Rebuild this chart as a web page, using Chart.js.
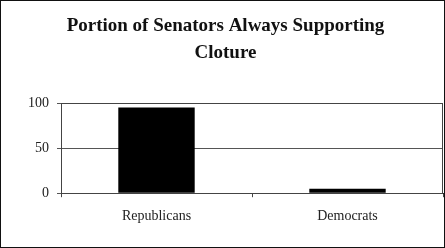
<!DOCTYPE html>
<html>
<head>
<meta charset="utf-8">
<script src="https://cdn.jsdelivr.net/npm/chart.js@4.4.0/dist/chart.umd.min.js"></script>
<style>
  body { margin: 0; background: #fff; }
</style>
</head>
<body>
<canvas id="senateChart" width="445" height="248"></canvas>
<script>
const parties = ['Republicans', 'Democrats'];
const alwaysCloture = [95, 5];
const yTicks = [0, 50, 100];

// frame round the whole picture and round the plot area
const frames = {
    id: 'frames',
    afterDraw(chart) {
        const c = chart.ctx;
        const a = chart.chartArea;
        c.save();
        c.strokeStyle = '#111';
        c.lineWidth = 1;
        c.strokeRect(0.5, 0.5, chart.width - 1, chart.height - 1);
        c.strokeStyle = '#444';
        c.strokeRect(Math.round(a.left) + 0.5, Math.round(a.top) + 0.5,
            Math.round(a.right - a.left) - 1, Math.round(a.bottom - a.top));
        c.restore();
    }
};

const ctx = document.getElementById('senateChart').getContext('2d');
const myChart = new Chart(ctx, {
    type: 'bar',
    data: {
        labels: parties,
        datasets: [{
            label: 'Portion always supporting cloture',
            data: alwaysCloture,
            backgroundColor: '#000',
            borderWidth: 0,
            barPercentage: 0.8,
            categoryPercentage: 0.5
        }]
    },
    options: {
        responsive: false,
        animation: false,
        layout: { padding: { top: 0, right: 2, left: 8, bottom: 12 } },
        plugins: {
            legend: { display: false },
            tooltip: { enabled: false },
            title: {
                display: true,
                text: ['Portion of Senators Always Supporting', 'Cloture'],
                color: '#111',
                font: { family: 'Liberation Serif', size: 19, weight: 'bold', lineHeight: 1.45 },
                padding: { top: 12, bottom: 36 }
            }
        },
        scales: {
            x: {
                grid: { drawOnChartArea: false, drawTicks: true, tickLength: 4, color: '#444' },
                border: { display: true, color: '#222' },
                ticks: {
                    color: '#222',
                    padding: 11,
                    font: { family: 'Liberation Serif', size: 14 }
                }
            },
            y: {
                min: 0,
                max: 100,
                afterBuildTicks(axis) { axis.ticks = yTicks.map(v => ({ value: v })); },
                afterFit(axis) { axis.width = 53; },
                grid: { color: '#555', tickLength: 4 },
                border: { display: true, color: '#222' },
                ticks: {
                    color: '#222',
                    padding: 8,
                    font: { family: 'Liberation Serif', size: 14 }
                }
            }
        }
    },
    plugins: [frames]
});
</script>
</body>
</html>
